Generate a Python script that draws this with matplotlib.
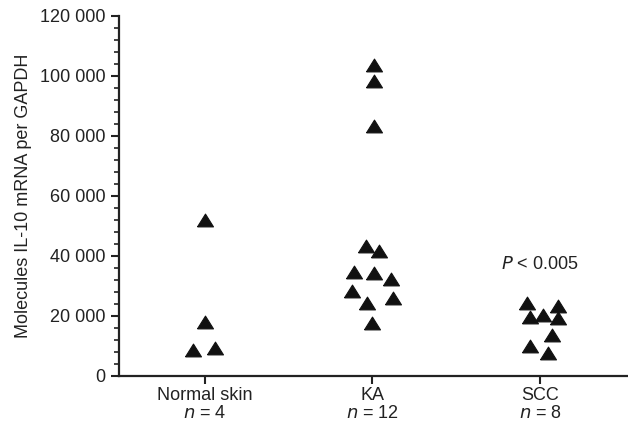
import matplotlib
matplotlib.use("Agg")
import matplotlib.pyplot as plt
import numpy as np

plt.rcParams['font.family'] = ['Liberation Sans', 'DejaVu Sans']

# data
groups = ["Normal skin", "KA", "SCC"]
counts = [4, 12, 8]
normal_vals = [52000, 18000, 8800, 9200]
normal_jit = [0.0, 0.0, -0.07, 0.06]
ka_vals = [103800, 98300, 83200, 43300, 41700, 34700, 34200, 32300,
           28200, 26000, 24200, 17500]
ka_jit = [0.01, 0.01, 0.01, -0.04, 0.04, -0.11, 0.01, 0.11,
          -0.12, 0.12, -0.03, 0.0]
scc_vals = [24200, 23300, 19500, 20200, 19200, 13800, 10000, 7700]
scc_jit = [-0.08, 0.11, -0.06, 0.02, 0.11, 0.07, -0.06, 0.05]

fig = plt.figure(figsize=(6.28, 4.25), dpi=100)
ax = fig.add_axes([0.1895, 0.1153, 0.8105, 0.8471])

tri = [(-1, -0.8), (1, -0.8), (0, 0.8), (-1, -0.8)]
for i, (vals, jit) in enumerate([(normal_vals, normal_jit),
                                  (ka_vals, ka_jit),
                                  (scc_vals, scc_jit)]):
    xs = i + 1 + np.array(jit)
    ax.plot(xs, vals, linestyle='none', marker=tri, markersize=11.5,
            color='#111111', markeredgewidth=0.8, markeredgecolor='#111111')

ax.set_xlim(0.487, 3.525)
ax.set_ylim(0, 120000)
ax.set_yticks(np.arange(0, 120001, 20000))
ax.set_yticklabels(["0" if v == 0 else f"{v // 1000} 000" for v in range(0, 120001, 20000)],
                   fontsize=13)
ax.set_yticks(np.arange(0, 120001, 4000), minor=True)
ax.set_xticks([1, 2, 3])
ax.set_xticklabels([f"{g}\n$\\it{{n}}$ = {c}" for g, c in zip(groups, counts)],
                   fontsize=13, linespacing=1.05)

for s in ['top', 'right']:
    ax.spines[s].set_visible(False)
for s in ['left', 'bottom']:
    ax.spines[s].set_linewidth(1.6)
    ax.spines[s].set_color('#222222')
ax.tick_params(axis='both', which='major', direction='out', length=6, width=1.5,
               colors='#222222', labelcolor='#222222')
ax.tick_params(axis='y', which='minor', direction='out', length=3.5, width=1.2,
               colors='#222222')
ax.tick_params(axis='x', which='major', pad=2)

ax.set_ylabel("Molecules IL-10 mRNA per GAPDH", fontsize=13, color='#222222',
              labelpad=6)
ax.text(3, 37000, "$\\it{P}$ < 0.005", ha='center', va='center', fontsize=13,
        color='#222222')

fig.savefig("out.png", dpi=100)
